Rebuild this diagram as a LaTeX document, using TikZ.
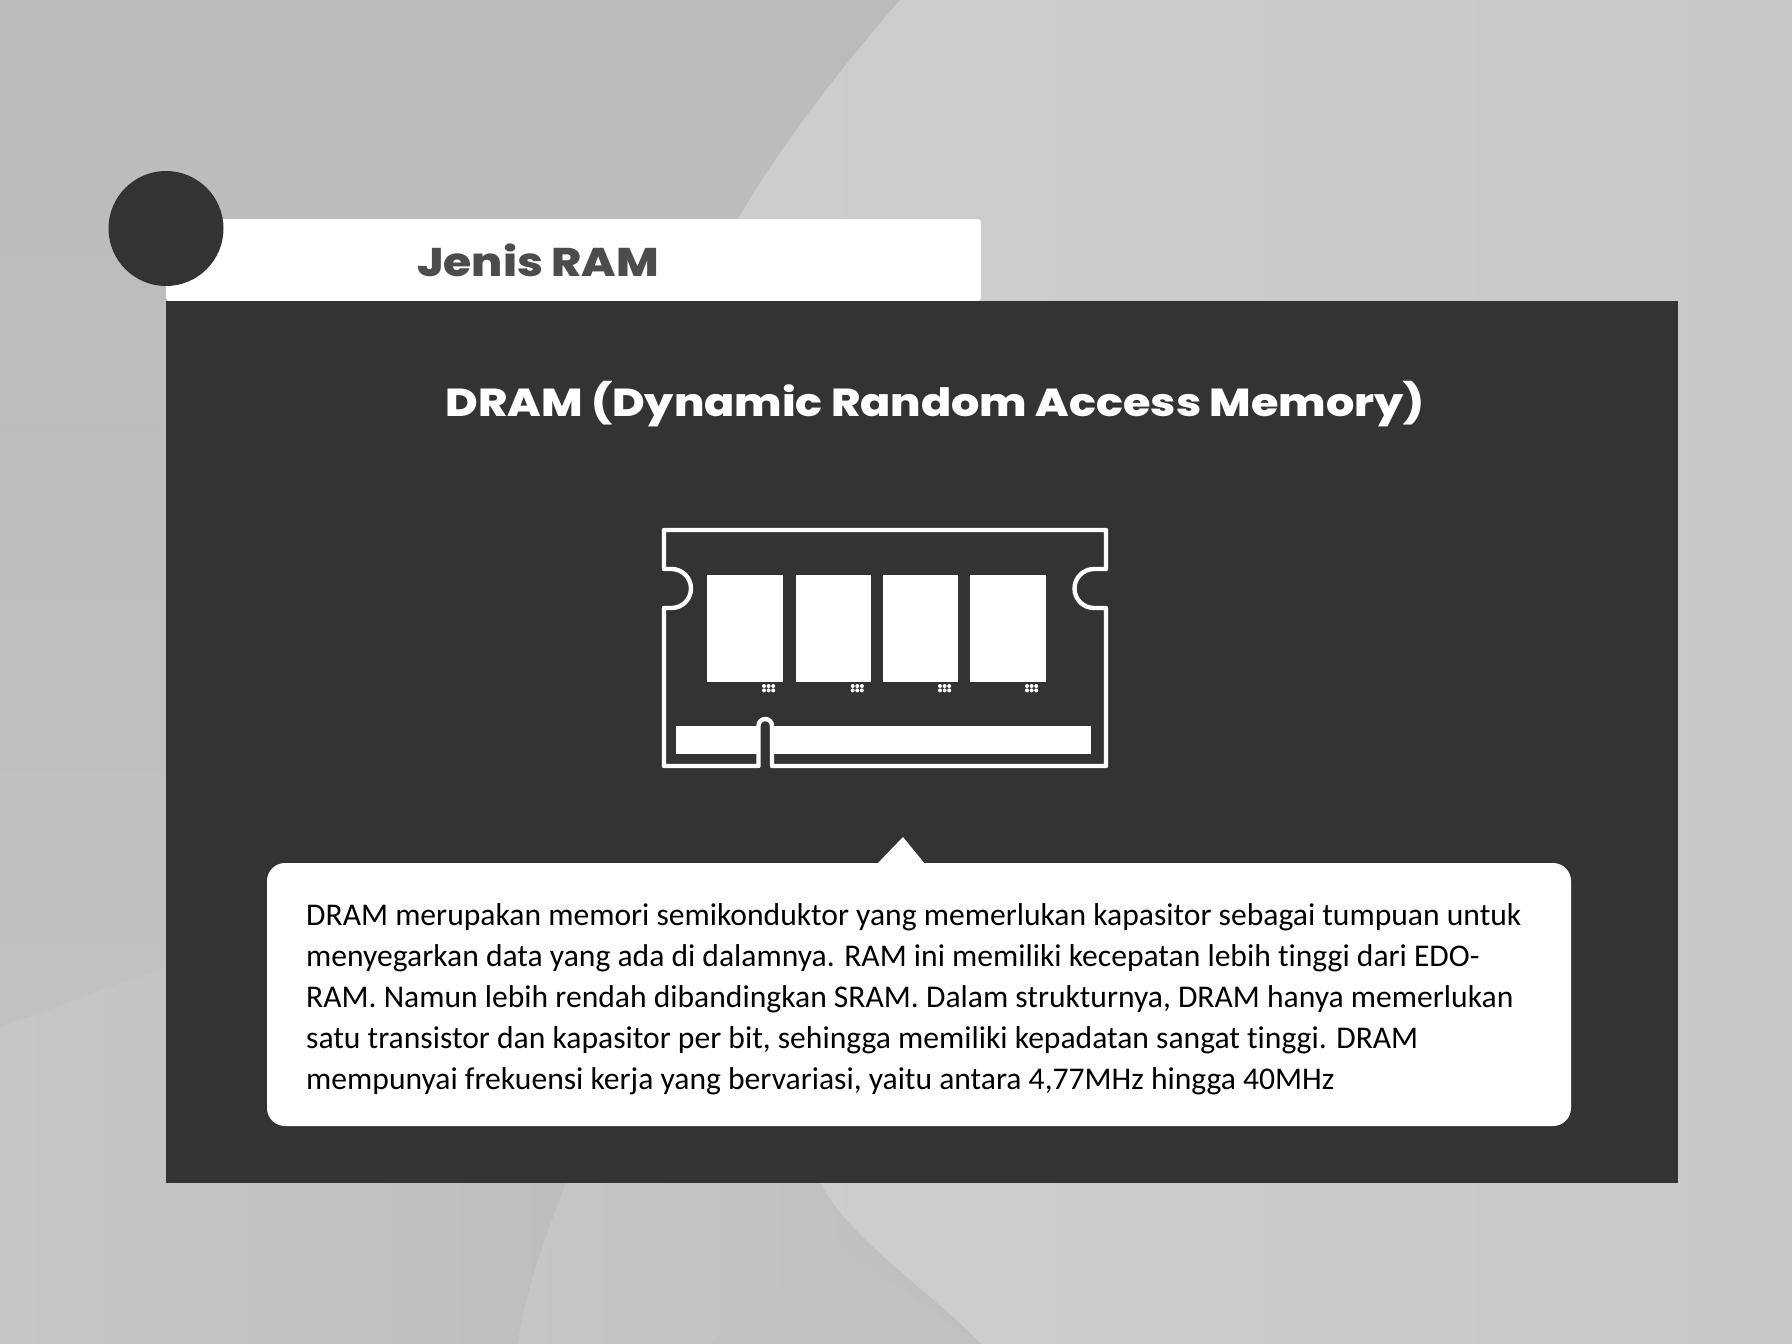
\documentclass[tikz,border=0pt]{standalone}
\usepackage{fontspec}
\setmainfont{Carlito}[Ligatures=NoCommon]
\newfontfamily\headfont{Poppins}[BoldFont=* ExtraBold,BoldFeatures={FakeStretch=1.14}]
\usetikzlibrary{positioning}
\definecolor{panelgray}{HTML}{333333}
\tikzset{
    %Define style for the white parts of the module
    chip/.style={fill=white},
    modline/.style={
           draw=white,
           line width=4.4pt,
           line join=round},
    %Define style for texts
    headtext/.style={
           inner sep=0pt,
           font=\headfont\bfseries\fontsize{39}{42}\selectfont},
    bodytext/.style={
           inner sep=0pt,
           align=left,
           text=black,
           font=\fontsize{31.6}{41}\selectfont}
}
\begin{document}
\begin{tikzpicture}[x=1pt,y=-1pt]
\useasboundingbox (0,0) rectangle (1792,1344);

 %background
\definecolor{bglight}{HTML}{CDCDCD}
\definecolor{bgright}{HTML}{C8C8C8}
\definecolor{bgtop}{HTML}{BBBBBB}
\definecolor{bgmid}{HTML}{C1C1C1}
\definecolor{bgleft}{HTML}{C6C6C6}
\definecolor{bgdark}{HTML}{BEBEBE}
\fill[bgleft] (0,0) rectangle (1792,1344);
\shade[left color=bgleft,right color=bgdark] (0,1344) -- (0,1027)
    -- (166,967) -- (566,1183) .. controls (548,1230) and (525,1290) .. (518,1344) -- cycle;
\shade[top color=bgtop,bottom color=bgmid]
    (0,0) -- (900,0) .. controls (835,75) and (778,150) .. (738,219)
    -- (166,967) -- (0,1027) -- cycle;
\shade[left color=bgleft,right color=bgdark] (566,1183) .. controls (548,1230) and (525,1290) .. (518,1344)
    -- (981,1344) .. controls (935,1295) and (845,1235) .. (821,1183) -- cycle;
\fill[bgmid] (708,1344) -- (834,1243) -- (981,1344) -- cycle;
\shade[left color=bglight,right color=bgright]
    (900,0) -- (1792,0) -- (1792,1344) -- (981,1344)
    .. controls (935,1295) and (845,1235) .. (821,1183) -- (738,219)
    .. controls (778,150) and (835,75) .. (900,0) -- cycle;

 %title tab and panel
\fill[white,rounded corners=3pt] (166,301) -- (166,219) -- (981,219) -- (981,301) -- cycle;
\fill[panelgray] (166,301) rectangle (1678,1183);
\fill[panelgray] (166,228.5) circle (57.5);

 %texts
\node[headtext,font=\headfont\bfseries\fontsize{40}{42}\selectfont,text=black!70,anchor=base] (jenis) at (538,276) {Jenis RAM};
\node[headtext,text=white,anchor=base] (dram) at (935,416) {DRAM (Dynamic Random Access Memory)};

 %module
\foreach \xa/\xb in {707.3/782.7,796/871,883.3/958.3,970.3/1045.7}
    \fill[chip] (\xa,575) rectangle (\xb,682);
\foreach \xa in {764,852.7,940,1027}
    \foreach \dx in {0,4.6,9.2}
        \foreach \ya in {686,690.4}
            \fill[white] (\xa+\dx,\ya) circle (2);
\fill[chip] (676,725.7) rectangle (1090.7,754);
\fill[panelgray] (758.5,767) -- (758.5,725.7) arc (180:360:6.75) -- (772,767) -- cycle;
\draw[modline] (758.5,766) -- (664,766) -- (664,608) -- (671.5,608) arc (90:-90:19.5)
    -- (664,569) -- (664,530) -- (1106,530) -- (1106,569) -- (1094,569) arc (270:90:19.5)
    -- (1106,608) -- (1106,766) -- (772,766) -- (772,725.7) arc (0:-180:6.75) -- cycle;

 %callout
\fill[white,rounded corners=18pt] (267,863) rectangle (1571,1126);
\fill[white] (877,864) -- (903,837) -- (925,864) -- cycle;
\node[bodytext,anchor=north west] (body) at (306,903) {DRAM merupakan memori semikonduktor yang memerlukan kapasitor sebagai tumpuan untuk\\
menyegarkan data yang ada di dalamnya. RAM ini memiliki kecepatan lebih tinggi dari EDO-\\
RAM. Namun lebih rendah dibandingkan SRAM. Dalam strukturnya, DRAM hanya memerlukan\\
satu transistor dan kapasitor per bit, sehingga memiliki kepadatan sangat tinggi. DRAM\\
mempunyai frekuensi kerja yang bervariasi, yaitu antara 4,77MHz hingga 40MHz};

\end{tikzpicture}
\end{document}
